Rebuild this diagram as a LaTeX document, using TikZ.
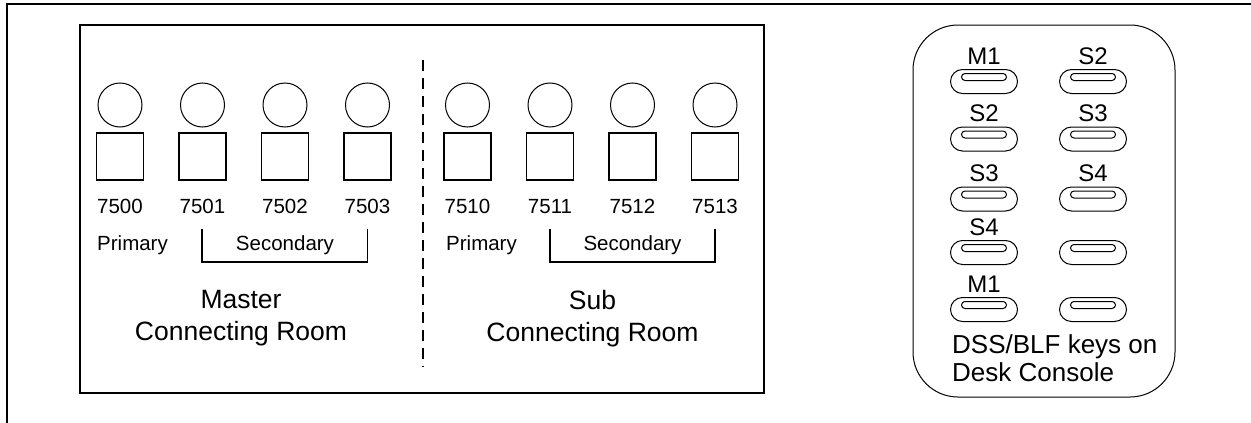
\documentclass[tikz,border=0pt]{standalone}
\usepackage{fontspec}
\setmainfont{Liberation Sans}
\usetikzlibrary{shapes.misc}
\begin{document}
\begin{tikzpicture}[x=1pt,y=-1pt,
  phone/.style={circle,draw,line width=1pt,minimum size=44pt,inner sep=0pt},
  pad/.style={draw,line width=1.5pt,minimum size=47pt,inner sep=0pt},
  num/.style={font=\fontsize{20.5}{24}\selectfont,inner sep=0pt,anchor=base},
  big/.style={font=\fontsize{26.5}{32}\selectfont,align=center,inner sep=0pt,anchor=north},
  keyo/.style={rounded rectangle,draw,line width=1pt,minimum width=67pt,minimum height=24pt,inner sep=0pt},
  keyi/.style={rounded rectangle,draw,line width=1pt,minimum width=45pt,minimum height=7pt,inner sep=0pt},
  klbl/.style={font=\fontsize{24}{28}\selectfont,inner sep=0pt,anchor=base}]
\useasboundingbox (0,0) rectangle (1251,423);
% outer frame (only top and left visible)
\coordinate (ftl) at (7,3.5);
\coordinate (ftr) at (1251,3.5);
\coordinate (fbl) at (7,423);
\draw[line width=2pt] (fbl) -- (ftl) -- (ftr);
% inner box
\node[draw,line width=2.5pt,minimum width=684pt,minimum height=368pt,inner sep=0pt] (room) at (422,209) {};
% dashed divider
\coordinate (dtop) at (423,60);
\coordinate (dbot) at (423,367);
\draw[line width=1.5pt,dash pattern=on 11pt off 7pt] (dtop) -- (dbot);
% extensions
\foreach \n/\x in {7500/120,7501/202.5,7502/285,7503/367.5,7510/467.5,7511/550,7512/632.5,7513/715}{
  \node[phone] (c\n) at (\x,105) {};
  \node[pad] (s\n) at (\x,156.5) {};
  \node[num] (t\n) at (\x,213) {\n};
}
% primary / secondary
\node[num,anchor=base west] (pm) at (97,250) {Primary};
\node[num,anchor=base west] (ps) at (446,250) {Primary};
\coordinate (bm1) at (202,229);
\coordinate (bm2) at (367.5,229);
\coordinate (bs1) at (550,229);
\coordinate (bs2) at (715,229);
\draw[line width=1.5pt] (bm1) -- ++(0,33) -| (bm2);
\draw[line width=1.5pt] (bs1) -- ++(0,33) -| (bs2);
\node[num] (sm) at (285,250) {Secondary};
\node[num] (ss) at (632.5,250) {Secondary};
% room names
\node[big] (master) at (241,290.5) {Master\\Connecting Room};
\node[big] (sub) at (592.5,290.5) {Sub\\Connecting Room};
% desk console
\draw[line width=1pt,rounded corners=45pt] (913,25) rectangle (1175,397);
\foreach \r/\y/\la/\lb in {1/81.5/M1/S2,2/139/S2/S3,3/199/S3/S4,4/252.5/S4/,5/309.5/M1/}{
  \node[keyo] (ka\r) at (984,\y) {};
  \node[keyi] (kia\r) at ([yshift=4.5pt]ka\r.center) {};
  \node[keyo] (kb\r) at (1093,\y) {};
  \node[keyi] (kib\r) at ([yshift=4.5pt]kb\r.center) {};
  \node[klbl] (la\r) at ([yshift=5pt]ka\r.north) {\la};
  \node[klbl] (lb\r) at ([yshift=5pt]kb\r.north) {\lb};
}
\node[font=\fontsize{26}{28}\selectfont,align=left,inner sep=0pt,anchor=north west] (dss) at (952,334) {DSS/BLF keys on\\Desk Console};
\end{tikzpicture}
\end{document}
